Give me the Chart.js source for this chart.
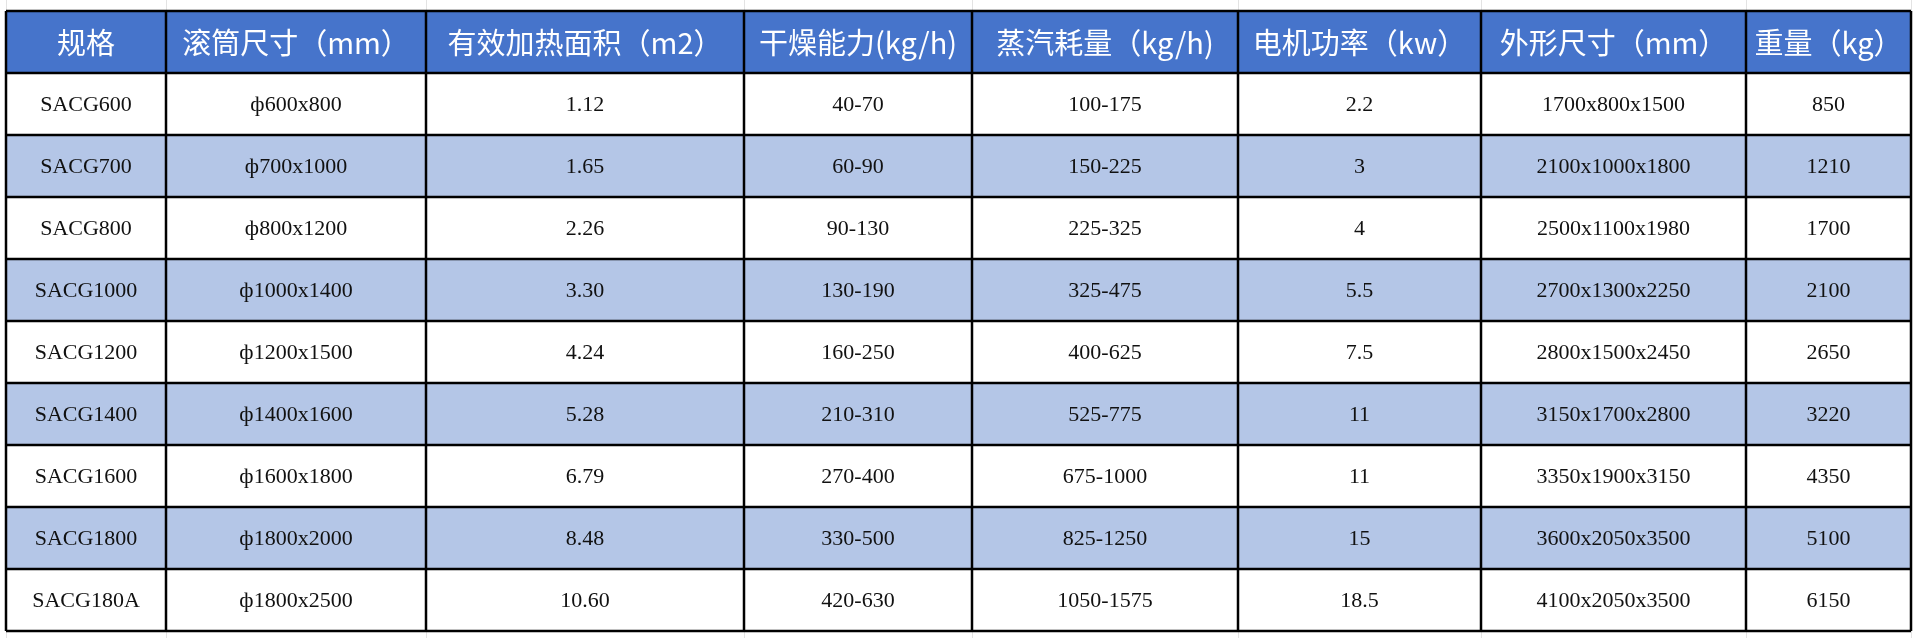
<!DOCTYPE html>
<html><head><meta charset="utf-8">
<script src="https://cdn.jsdelivr.net/npm/chart.js@4"></script>
<style>html,body{margin:0;padding:0;background:#fff;}#wrap{width:1918px;height:638px;}</style>
</head><body><div id="wrap"><canvas id="c" width="1918" height="638"></canvas></div>
<script>
const headers = ["规格","滚筒尺寸（mm）","有效加热面积（m2）","干燥能力(kg/h)","蒸汽耗量（kg/h)","电机功率（kw）","外形尺寸（mm）","重量（kg）"];
const models = ["SACG600","SACG700","SACG800","SACG1000","SACG1200","SACG1400","SACG1600","SACG1800","SACG180A"];
const drumSize = ["ф600x800","ф700x1000","ф800x1200","ф1000x1400","ф1200x1500","ф1400x1600","ф1600x1800","ф1800x2000","ф1800x2500"];
const heatArea = ["1.12","1.65","2.26","3.30","4.24","5.28","6.79","8.48","10.60"];
const dryCap = ["40-70","60-90","90-130","130-190","160-250","210-310","270-400","330-500","420-630"];
const steam = ["100-175","150-225","225-325","325-475","400-625","525-775","675-1000","825-1250","1050-1575"];
const motor = ["2.2","3","4","5.5","7.5","11","11","15","18.5"];
const outline = ["1700x800x1500","2100x1000x1800","2500x1100x1980","2700x1300x2250","2800x1500x2450","3150x1700x2800","3350x1900x3150","3600x2050x3500","4100x2050x3500"];
const weight = ["850","1210","1700","2100","2650","3220","4350","5100","6150"];
const columns = [models, drumSize, heatArea, dryCap, steam, motor, outline, weight];
// layout: column edges in x-scale units
const colEdges = [0,160,420,738,966,1232,1475,1740,1905];

const tablePlugin = {
  id:'table',
  afterDatasetsDraw(chart){
    const {ctx, scales:{x,y}} = chart;
    const nRows = models.length + 1;
    const X = v => x.getPixelForValue(v);
    const Y = v => y.getPixelForValue(v);
    // backgrounds
    for(let r=0;r<nRows;r++){
      const y0=Y(r), y1=Y(r+1);
      let fill = r===0 ? '#4674cb' : (r%2===0 ? '#b4c6e7' : '#ffffff');
      ctx.fillStyle=fill;
      ctx.fillRect(X(0), y0, X(colEdges[colEdges.length-1])-X(0), y1-y0);
    }
    // text
    ctx.textBaseline='middle';
    ctx.textAlign='center';
    for(let c=0;c<headers.length;c++){
      const cx=(X(colEdges[c])+X(colEdges[c+1]))/2;
      ctx.fillStyle='#ffffff';
      ctx.font='29px "Noto Sans CJK SC", sans-serif';
      ctx.fillText(headers[c], cx, (Y(0)+Y(1))/2+1, X(colEdges[c+1])-X(colEdges[c])-4);
      ctx.fillStyle='#111';
      ctx.font='22px "Liberation Serif", serif';
      for(let r=0;r<models.length;r++){
        ctx.fillText(columns[c][r], cx, (Y(r+1)+Y(r+2))/2+1);
      }
    }
    // grid lines
    ctx.strokeStyle='#000'; ctx.lineWidth=2.5;
    ctx.beginPath();
    for(let r=0;r<=nRows;r++){ ctx.moveTo(X(0),Y(r)); ctx.lineTo(X(colEdges[colEdges.length-1]),Y(r)); }
    for(const e of colEdges){ ctx.moveTo(X(e),Y(0)); ctx.lineTo(X(e),Y(nRows)); }
    ctx.stroke();
  },
  beforeDraw(chart){
    const {ctx, scales:{x}} = chart;
    ctx.save();
    ctx.strokeStyle='#e3e3e3'; ctx.lineWidth=1;
    ctx.beginPath();
    for(const e of colEdges){ const px=Math.round(x.getPixelForValue(e))+0.5; ctx.moveTo(px,0); ctx.lineTo(px,chart.height); }
    ctx.stroke();
    ctx.restore();
  }
};

new Chart(document.getElementById('c'), {
  type:'scatter',
  data:{datasets:[{data:[]}]},
  options:{
    responsive:false, animation:false, devicePixelRatio:1,
    layout:{padding:{left:6,right:7,top:11,bottom:7}},
    plugins:{legend:{display:false},tooltip:{enabled:false}},
    scales:{
      x:{type:'linear',min:0,max:1905,display:false},
      y:{type:'linear',min:0,max:10,reverse:true,display:false}
    }
  },
  plugins:[tablePlugin]
});
</script></body></html>
